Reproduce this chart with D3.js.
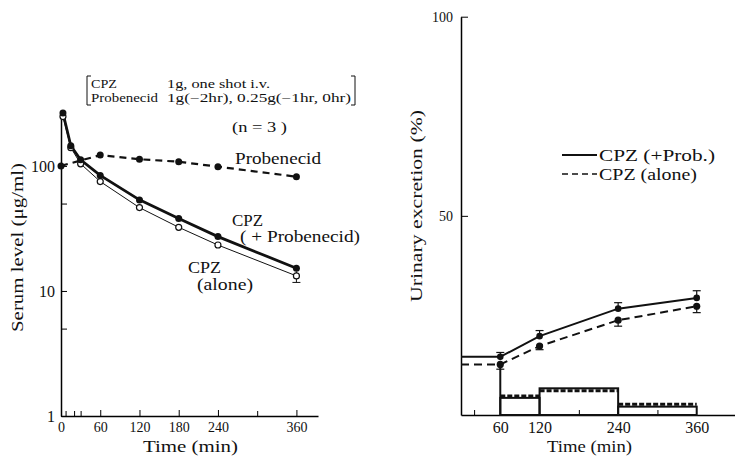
<!DOCTYPE html>
<html>
<head>
<meta charset="utf-8">
<script src="https://cdn.jsdelivr.net/npm/d3@7"></script>
<style>
body { margin: 0; background: #fff; }
text { font-family: "Liberation Serif", "Times New Roman", serif; fill: #111; }
</style>
</head>
<body>
<svg id="chart" width="735" height="456"></svg>
<script>
// left panel: serum level (ug/ml), log scale
const serumTimes = [3, 15, 30, 60, 120, 180, 240, 360];
const cpzProb = [265, 145, 112, 84, 53.5, 38, 27.2, 15.2];
const cpzAlone = [248, 140, 104, 75, 46.4, 32.3, 23.3, 13.2];
const probTimes = [0, 60, 120, 180, 240, 360];
const probenecid = [100, 122, 113, 108, 98.6, 82];
const aloneErrLow = [11.7];
const aloneErrHigh = [14.3];
const serumXTicks = [0, 60, 120, 180, 240, 360];
const serumXMinor = [7, 20, 30, 300];
const serumYTicks = [1, 10, 100];
const serumYMinor = [5, 50];

// right panel: urinary excretion (%)
const urineTimes = [60, 120, 240, 360];
const cumProb = [14.6, 19.8, 26.7, 29.4];
const cumAlone = [12.7, 17.3, 23.8, 27.3];
const sdProb = [1.1, 1.4, 1.5, 1.8];
const sdAlone = [1.2, 0.9, 1.5, 1.6];
const intervalStart = [0, 60, 120, 240];
const intervalEnd = [60, 120, 240, 360];
const barProb = [14.6, 4.3, 6.7, 2.1];
const barAlone = [12.7, 4.8, 6.1, 2.7];
const urineXTicks = [60, 120, 240, 360];
const urineXMinor = [20, 180, 300];
const urineYTicks = [50, 100];

const svg = d3.select('#chart');

function label(g, x, y, str, size, len, rotate) {
    const t = g.append('text')
        .attr('x', x).attr('y', y)
        .attr('font-size', size)
        .text(str);
    if (len) t.attr('textLength', len).attr('lengthAdjust', 'spacingAndGlyphs');
    if (rotate) t.attr('transform', 'rotate(-90,' + x + ',' + y + ')');
    return t;
}

// ---------- left panel ----------
const xL = d3.scaleLinear().domain([0, 393]).range([61, 318]);
const yL = d3.scaleLog().domain([1, 280]).range([416, 110]);
const left = svg.append('g');

left.append('g')
    .attr('transform', 'translate(0,416)')
    .call(d3.axisBottom(xL).tickValues(serumXTicks).tickSizeInner(-6).tickSizeOuter(0).tickPadding(6).tickFormat(d3.format('d')))
    .call(g => g.selectAll('text').attr('font-size', 14).attr('font-family', null).attr('dy', '0.71em'));
left.append('g')
    .attr('transform', 'translate(0,416)')
    .call(d3.axisBottom(xL).tickValues(serumXMinor).tickSizeInner(-5).tickSizeOuter(0).tickFormat(''))
    .call(g => g.select('.domain').remove());
left.append('g')
    .attr('transform', 'translate(61,0)')
    .call(d3.axisLeft(yL).tickValues(serumYTicks).tickSizeInner(-6).tickSizeOuter(0).tickPadding(6).tickFormat(d3.format('d')))
    .call(g => g.selectAll('text').attr('font-size', 16).attr('font-family', null));
left.append('g')
    .attr('transform', 'translate(61,0)')
    .call(d3.axisLeft(yL).tickValues(serumYMinor).tickSizeInner(-6).tickSizeOuter(0).tickFormat(''))
    .call(g => g.select('.domain').remove());
left.selectAll('.domain').attr('stroke-width', 1.5);

const probLine = d3.line().x((d, i) => xL(probTimes[i])).y(d => yL(d));
left.append('path').datum(probenecid)
    .attr('d', probLine).attr('fill', 'none').attr('stroke', '#111')
    .attr('stroke-width', 2.2).attr('stroke-dasharray', '7,5');
left.selectAll('.pdot').data(probenecid).enter().append('circle')
    .attr('cx', (d, i) => xL(probTimes[i])).attr('cy', d => yL(d)).attr('r', 3.5).attr('fill', '#111');

const serumLine = d3.line().x((d, i) => xL(serumTimes[i])).y(d => yL(d));
left.append('path').datum(cpzAlone)
    .attr('d', serumLine).attr('fill', 'none').attr('stroke', '#111').attr('stroke-width', 1);
left.append('path').datum(cpzProb)
    .attr('d', serumLine).attr('fill', 'none').attr('stroke', '#111').attr('stroke-width', 2.8);

// error bar on CPZ alone at 360
left.append('line')
    .attr('x1', xL(360)).attr('x2', xL(360))
    .attr('y1', yL(aloneErrLow[0])).attr('y2', yL(aloneErrHigh[0]))
    .attr('stroke', '#111').attr('stroke-width', 1);
left.append('line')
    .attr('x1', xL(360) - 4).attr('x2', xL(360) + 4)
    .attr('y1', yL(aloneErrLow[0])).attr('y2', yL(aloneErrLow[0]))
    .attr('stroke', '#111').attr('stroke-width', 1);

left.selectAll('.adot').data(cpzAlone).enter().append('circle')
    .attr('cx', (d, i) => xL(serumTimes[i])).attr('cy', d => yL(d)).attr('r', 3)
    .attr('fill', '#fff').attr('stroke', '#111').attr('stroke-width', 1.2);
left.selectAll('.fdot').data(cpzProb).enter().append('circle')
    .attr('cx', (d, i) => xL(serumTimes[i])).attr('cy', d => yL(d)).attr('r', 3.5).attr('fill', '#111');

// dosing note
left.append('path').attr('d', 'M91,76 H87 V105 H91').attr('fill', 'none').attr('stroke', '#111').attr('stroke-width', 1);
left.append('path').attr('d', 'M351,76 H355 V105 H351').attr('fill', 'none').attr('stroke', '#111').attr('stroke-width', 1);
label(left, 91, 88, 'CPZ', 12, 26);
label(left, 167, 88, '1g, one shot i.v.', 12, 103);
label(left, 91, 102, 'Probenecid', 12, 67);
label(left, 167, 102, '1g(−2hr), 0.25g(−1hr, 0hr)', 12, 184);
label(left, 232, 132, '(n = 3 )', 15, 55);

label(left, 235, 164, 'Probenecid', 16, 86);
label(left, 232, 226, 'CPZ', 16, 31);
label(left, 240, 242, '( + Probenecid)', 16, 120);
label(left, 188, 273, 'CPZ', 16, 33);
label(left, 197, 290, '(alone)', 16, 56);

label(left, 143, 452, 'Time (min)', 16, 95);
label(left, 23, 332, 'Serum level (μg/ml)', 16, 169, true);

// ---------- right panel ----------
const xR = d3.scaleLinear().domain([0, 420]).range([461, 736]);
const yR = d3.scaleLinear().domain([0, 100]).range([415, 16.7]);
const right = svg.append('g');

right.append('g')
    .attr('transform', 'translate(0,415)')
    .call(d3.axisBottom(xR).tickValues(urineXTicks).tickSize(0).tickPadding(7).tickFormat(d3.format('d')))
    .call(g => g.selectAll('text').attr('font-size', 16).attr('font-family', null).attr('dy', '0.71em'));
right.append('g')
    .attr('transform', 'translate(0,415)')
    .call(d3.axisBottom(xR).tickValues(urineXMinor).tickSizeInner(-5).tickSizeOuter(0).tickFormat(''))
    .call(g => g.select('.domain').remove());
right.append('g')
    .attr('transform', 'translate(461,0)')
    .call(d3.axisLeft(yR).tickValues(urineYTicks).tickSizeInner(-7).tickSizeOuter(0).tickPadding(8).tickFormat(d3.format('d')))
    .call(g => g.selectAll('text').attr('font-size', 14).attr('font-family', null));
right.selectAll('.domain').attr('stroke-width', 1.5);

// interval bars
intervalStart.forEach((s, i) => {
    if (i === 0) {
        right.append('line')
            .attr('x1', xR(intervalEnd[i])).attr('x2', xR(intervalEnd[i]))
            .attr('y1', yR(0)).attr('y2', yR(barAlone[i]))
            .attr('stroke', '#111').attr('stroke-width', 2);
        return;
    }
    right.append('rect')
        .attr('x', xR(s)).attr('y', yR(barProb[i]))
        .attr('width', xR(intervalEnd[i]) - xR(s)).attr('height', yR(0) - yR(barProb[i]))
        .attr('fill', 'none').attr('stroke', '#111').attr('stroke-width', 2);
    right.append('line')
        .attr('x1', xR(s)).attr('x2', xR(intervalEnd[i]))
        .attr('y1', yR(barAlone[i])).attr('y2', yR(barAlone[i]))
        .attr('stroke', '#111').attr('stroke-width', 3).attr('stroke-dasharray', '5,2');
});

const cumLine = d3.line().x(d => xR(d[0])).y(d => yR(d[1]));
const probPts = [[0, cumProb[0]]].concat(urineTimes.map((t, i) => [t, cumProb[i]]));
const alonePts = [[0, cumAlone[0]]].concat(urineTimes.map((t, i) => [t, cumAlone[i]]));
right.append('path').datum(probPts).attr('d', cumLine)
    .attr('fill', 'none').attr('stroke', '#111').attr('stroke-width', 2);
right.append('path').datum(alonePts).attr('d', cumLine)
    .attr('fill', 'none').attr('stroke', '#111').attr('stroke-width', 2).attr('stroke-dasharray', '8,5');

function errBar(t, v, sd, dir) {
    const end = v + dir * sd;
    right.append('line')
        .attr('x1', xR(t)).attr('x2', xR(t)).attr('y1', yR(v)).attr('y2', yR(end))
        .attr('stroke', '#111').attr('stroke-width', 1.2);
    right.append('line')
        .attr('x1', xR(t) - 4).attr('x2', xR(t) + 4).attr('y1', yR(end)).attr('y2', yR(end))
        .attr('stroke', '#111').attr('stroke-width', 1.2);
}
urineTimes.forEach((t, i) => {
    errBar(t, cumProb[i], sdProb[i], 1);
    errBar(t, cumAlone[i], sdAlone[i], -1);
});
right.selectAll('.cp').data(cumProb).enter().append('circle')
    .attr('cx', (d, i) => xR(urineTimes[i])).attr('cy', d => yR(d)).attr('r', 3.3).attr('fill', '#111');
right.selectAll('.ca').data(cumAlone).enter().append('circle')
    .attr('cx', (d, i) => xR(urineTimes[i])).attr('cy', d => yR(d)).attr('r', 3.6).attr('fill', '#111');

// legend
right.append('line').attr('x1', 562).attr('x2', 597).attr('y1', 155).attr('y2', 155)
    .attr('stroke', '#111').attr('stroke-width', 2);
right.append('line').attr('x1', 562).attr('x2', 597).attr('y1', 174).attr('y2', 174)
    .attr('stroke', '#111').attr('stroke-width', 1.6).attr('stroke-dasharray', '6,4');
label(right, 599, 161, 'CPZ (+Prob.)', 16, 116);
label(right, 599, 180, 'CPZ (alone)', 16, 98);

label(right, 547, 452, 'Time (min)', 17, 85);
label(right, 422, 302, 'Urinary excretion (%)', 17, 192, true);
</script>
</body>
</html>
